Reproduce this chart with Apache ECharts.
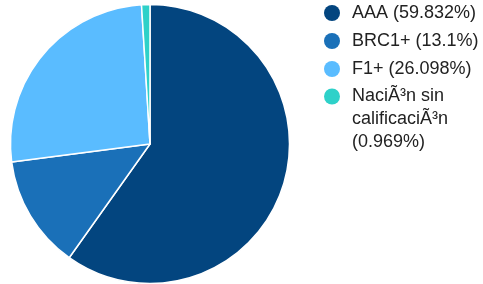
<!DOCTYPE html>
<html>
<head>
<meta charset="utf-8">
<script src="https://cdn.jsdelivr.net/npm/echarts@6/dist/echarts.min.js"></script>
<style>
  html, body { margin: 0; padding: 0; background: #fff; }
  #chart { width: 483px; height: 284px; }
</style>
</head>
<body>
<div id="chart"></div>
<script>
// data
var names = ['AAA', 'BRC1+', 'F1+', 'NaciÃ³n sin calificaciÃ³n'];
var values = [59.832, 13.1, 26.098, 0.969];
var colors = ['#03457f', '#1a70b8', '#5abcff', '#2ed1c9'];

var pieData = names.map(function (n, i) {
  return { name: n, value: values[i], itemStyle: { color: colors[i] } };
});

function legendText(name) {
  var i = names.indexOf(name);
  return name + ' (' + values[i] + '%)';
}

var legendFont = { fontFamily: 'Liberation Sans, Arial, sans-serif', fontSize: 18, color: '#222' };

var chart = echarts.init(document.getElementById('chart'));
var option = {
  animation: false,
  legend: [
    {
      // first three entries, one line each
      data: names.slice(0, 3),
      orient: 'vertical',
      left: 324,
      top: 2,
      padding: 0,
      icon: 'circle',
      itemWidth: 30,
      itemHeight: 16,
      itemGap: 6,
      itemStyle: { borderWidth: 0 },
      selectedMode: false,
      formatter: legendText,
      textStyle: Object.assign({ lineHeight: 22 }, legendFont)
    },
    {
      // wrapped entry: two blank lines in front so the icon sits on its first line
      data: names.slice(3),
      orient: 'vertical',
      left: 324,
      top: 39,
      padding: 0,
      icon: 'circle',
      itemWidth: 30,
      itemHeight: 16,
      itemStyle: { borderWidth: 0 },
      selectedMode: false,
      formatter: function (name) { return '\n\n' + legendText(name); },
      textStyle: Object.assign({ lineHeight: 23, width: 125, overflow: 'break' }, legendFont)
    }
  ],
  series: [{
    type: 'pie',
    center: [150, 144],
    radius: 139.5,
    startAngle: 90,
    clockwise: true,
    label: { show: false },
    labelLine: { show: false },
    itemStyle: { borderColor: '#fff', borderWidth: 1.5 },
    emphasis: { disabled: true },
    data: pieData
  }]
};
chart.setOption(option);
</script>
</body>
</html>
